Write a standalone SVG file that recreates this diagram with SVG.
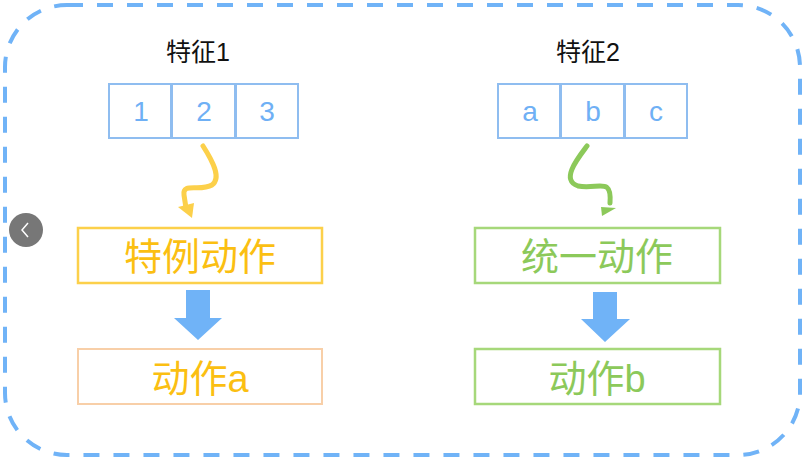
<svg xmlns="http://www.w3.org/2000/svg" width="810" height="459" viewBox="0 0 810 459">
<style>
.cell{fill:#fff;stroke:#8fbdf0;stroke-width:2}
.num{font-family:"Liberation Sans",Arial,sans-serif;font-size:28px;fill:#6fb0f5;text-anchor:middle}
.title{font-family:"Liberation Sans","Noto Sans CJK SC",sans-serif;font-size:25px;fill:#111;text-anchor:middle}
.lbl{font-family:"Liberation Sans","Noto Sans CJK SC",sans-serif;font-size:38px;text-anchor:middle}
.big{fill:#70b3f7}
</style>
<rect x="0" y="0" width="810" height="459" fill="#fff"/>
<rect x="5" y="5" width="795" height="450" rx="62" fill="none" stroke="#70b3f7" stroke-width="4" stroke-dasharray="16,14"/>
<g id="feature1">
<text class="title" x="198" y="61">特征1</text>
<rect class="cell" x="109" y="84" width="62" height="54"/><rect class="cell" x="172" y="84" width="63" height="54"/><rect class="cell" x="236" y="84" width="62" height="54"/>
<text class="num" x="141" y="121">1</text><text class="num" x="204" y="121">2</text><text class="num" x="267" y="121">3</text>
</g>
<g id="feature2">
<text class="title" x="588" y="61">特征2</text>
<rect class="cell" x="498" y="84" width="62" height="54"/><rect class="cell" x="561" y="84" width="63" height="54"/><rect class="cell" x="625" y="84" width="62" height="54"/>
<text class="num" x="530" y="121">a</text><text class="num" x="593" y="121">b</text><text class="num" x="656" y="121">c</text>
</g>
<g id="special">
<rect x="78" y="228" width="244" height="55" fill="#fff" stroke="#fcd04a" stroke-width="2.5"/>
<text class="lbl" x="200" y="270" fill="#fbbf12">特例动作</text>
</g>
<g id="unified">
<rect x="475" y="228" width="245" height="55" fill="#fff" stroke="#a6d87a" stroke-width="2.5"/>
<text class="lbl" x="597" y="270" fill="#8cc95a">统一动作</text>
</g>
<g id="actionA">
<rect x="78" y="349" width="244" height="55" fill="#fff" stroke="#f8cfa8" stroke-width="2"/>
<text class="lbl" x="200" y="392" fill="#fbbf12">动作a</text>
</g>
<g id="actionB">
<rect x="475" y="349" width="245" height="55" fill="#fff" stroke="#a6d87a" stroke-width="2.5"/>
<text class="lbl" x="597" y="392" fill="#8cc95a">动作b</text>
</g>
<g id="connectors">
<path d="M203,146 C212,160 222,178 212,185 C200,192 182,182 184,195 L186,208" fill="none" stroke="#fcd04a" stroke-width="5" stroke-linecap="round"/>
<path d="M178,207 L192,218 L194,203 Z" fill="#fcd04a"/>
<path d="M587,146 C578,158 560,180 578,186 C598,190 612,176 610,203" fill="none" stroke="#8cc95a" stroke-width="5" stroke-linecap="round"/>
<path d="M601,207 L602,216 L616,208 Z" fill="#8cc95a"/>
<path class="big" d="M186,290 H210 V318 H222 L198,340 L174,318 H186 Z"/>
<path class="big" d="M593,292 H617 V319 H630 L605,342 L581,319 H593 Z"/>
</g>
<circle cx="26" cy="230" r="17" fill="#777"/>
<path d="M28,223 L22,230 L28,237" fill="none" stroke="#fff" stroke-width="1.5"/>
</svg>
